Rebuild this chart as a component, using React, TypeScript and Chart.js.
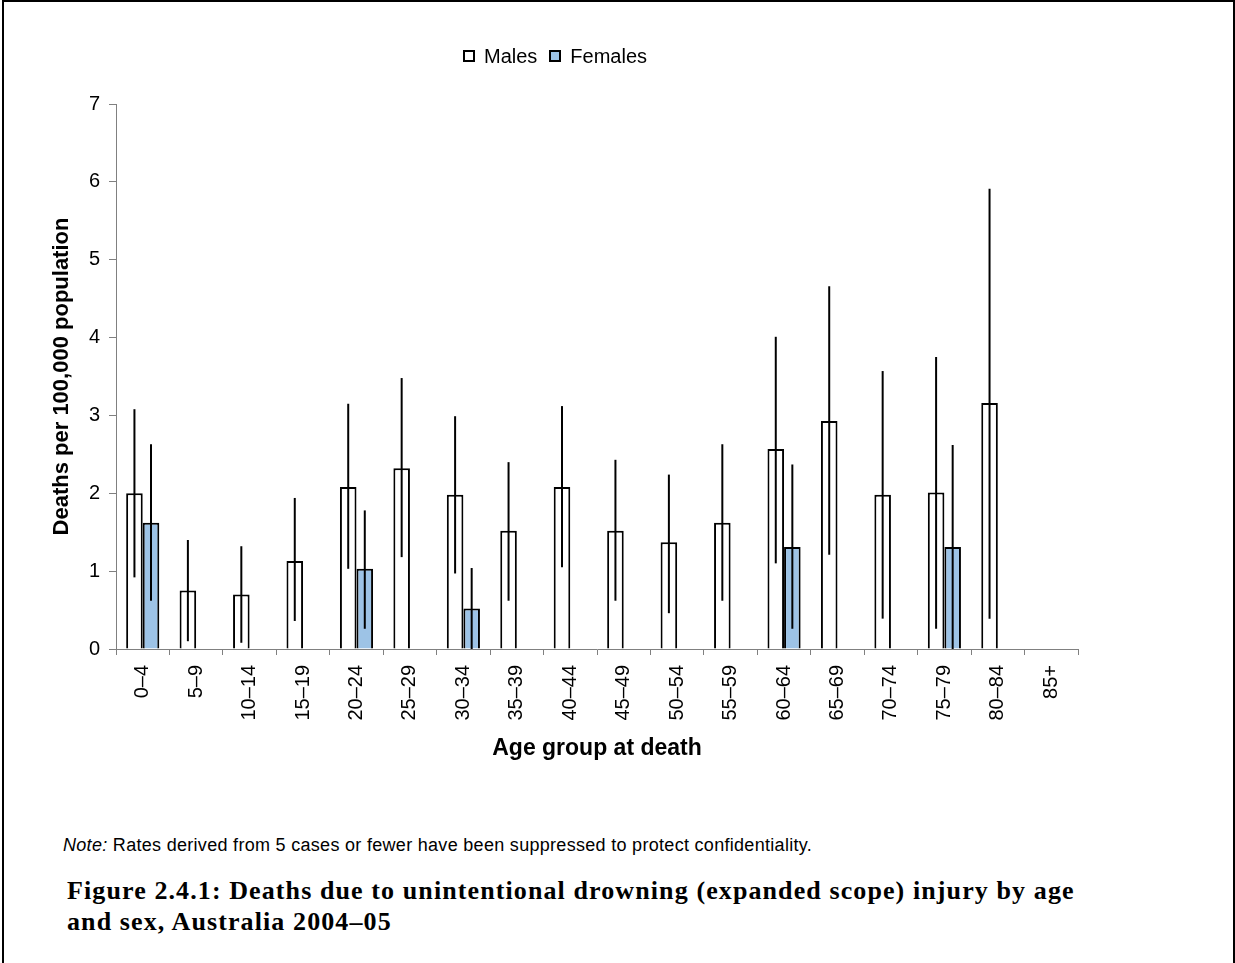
import React, { useEffect, useRef } from "react";
import { Chart, registerables } from "chart.js";

Chart.register(...registerables);

const categories = ["0–4", "5–9", "10–14", "15–19", "20–24", "25–29", "30–34", "35–39", "40–44", "45–49", "50–54", "55–59", "60–64", "65–69", "70–74", "75–79", "80–84", "85+"];

const malesRate = [2.0, 0.75, 0.7, 1.13, 2.08, 2.32, 1.98, 1.52, 2.08, 1.52, 1.37, 1.62, 2.57, 2.93, 1.98, 2.01, 3.16, null];
const malesLow = [0.92, 0.1, 0.08, 0.36, 1.03, 1.18, 0.97, 0.62, 1.05, 0.62, 0.46, 0.62, 1.1, 1.21, 0.39, 0.26, 0.39, null];
const malesHigh = [3.08, 1.4, 1.32, 1.94, 3.15, 3.48, 2.99, 2.4, 3.12, 2.43, 2.24, 2.63, 4.01, 4.66, 3.57, 3.75, 5.91, null];

const femalesRate = [1.62, null, null, null, 1.03, null, 0.52, null, null, null, null, null, 1.31, null, null, 1.31, null, null];
const femalesLow = [0.62, null, null, null, 0.26, null, 0, null, null, null, null, null, 0.26, null, null, 0, null, null];
const femalesHigh = [2.63, null, null, null, 1.78, null, 1.04, null, null, null, null, null, 2.37, null, null, 2.62, null, null];

const yTicks = [0, 1, 2, 3, 4, 5, 6, 7];

const FEMALE_COLOR = "#9DC3E6";
const AXIS_GRAY = "#808080";
const SANS = "'Liberation Sans', Arial, sans-serif";

const errorBarPlugin = {
  id: "errorBars",
  afterDatasetsDraw(chart: any) {
    const ctx = chart.ctx;
    const yScale = chart.scales.y;
    chart.data.datasets.forEach((ds: any, i: number) => {
      const meta = chart.getDatasetMeta(i);
      meta.data.forEach((el: any, j: number) => {
        const lo = ds.errLow[j];
        const hi = ds.errHigh[j];
        if (lo == null || hi == null) return;
        ctx.save();
        ctx.strokeStyle = "#000";
        ctx.lineWidth = 2;
        ctx.beginPath();
        ctx.moveTo(el.x, yScale.getPixelForValue(lo));
        ctx.lineTo(el.x, yScale.getPixelForValue(hi));
        ctx.stroke();
        ctx.restore();
      });
    });
  },
};

export default function App() {
  const canvasRef = useRef<HTMLCanvasElement | null>(null);

  useEffect(() => {
    const canvas = canvasRef.current;
    if (!canvas) return;
    const chart = new Chart(canvas, {
      type: "bar",
      data: {
        labels: categories,
        datasets: [
          {
            label: "Males",
            data: malesRate as any,
            backgroundColor: "#FFFFFF",
            borderColor: "#000000",
            borderWidth: 2,
            errLow: malesLow,
            errHigh: malesHigh,
          } as any,
          {
            label: "Females",
            data: femalesRate as any,
            backgroundColor: FEMALE_COLOR,
            borderColor: "#000000",
            borderWidth: 2,
            errLow: femalesLow,
            errHigh: femalesHigh,
          } as any,
        ],
      },
      options: {
        responsive: false,
        animation: false,
        devicePixelRatio: 1,
        layout: { padding: { left: 49, right: 157, top: 104, bottom: 18 } },
        datasets: { bar: { categoryPercentage: 0.62, barPercentage: 1.0 } },
        plugins: {
          legend: { display: false },
          tooltip: { enabled: false },
        },
        scales: {
          x: {
            offset: true,
            grid: {
              offset: true,
              drawOnChartArea: false,
              tickLength: 6,
              color: AXIS_GRAY,
              lineWidth: 1,
            },
            border: { color: AXIS_GRAY, width: 1 },
            ticks: {
              color: "#000",
              font: { family: SANS, size: 20 },
              minRotation: 90,
              maxRotation: 90,
              padding: 10,
              autoSkip: false,
            },
            title: {
              display: true,
              text: "Age group at death",
              color: "#000",
              font: { family: SANS, size: 23, weight: "bold" },
              padding: { top: 0, bottom: 0 },
            },
            afterFit(scale: any) {
              scale.height = 113;
            },
          },
          y: {
            min: 0,
            max: 7,
            afterBuildTicks(scale: any) {
              scale.ticks = yTicks.map((v) => ({ value: v }));
            },
            grid: {
              drawOnChartArea: false,
              tickLength: 7,
              color: AXIS_GRAY,
              lineWidth: 1,
            },
            border: { color: AXIS_GRAY, width: 1 },
            ticks: {
              color: "#000",
              font: { family: SANS, size: 20 },
              padding: 9,
            },
            title: {
              display: true,
              text: "Deaths per 100,000 population",
              color: "#000",
              font: { family: SANS, size: 22, weight: "bold" },
              padding: { top: 0, bottom: 0 },
            },
            afterFit(scale: any) {
              scale.width = 67;
            },
          },
        },
      } as any,
      plugins: [errorBarPlugin],
    });
    return () => chart.destroy();
  }, []);

  const legendBox = (bg: string): React.CSSProperties => ({
    display: "inline-block",
    width: 12,
    height: 12,
    boxSizing: "border-box",
    border: "2px solid #000",
    background: bg,
    marginRight: 9,
  });

  return (
    <div style={{ position: "absolute", left: 0, top: 0, width: 1235, height: 963, overflow: "hidden", background: "#fff" }}>
      <div
        style={{
          position: "absolute",
          left: 2,
          top: 0,
          width: 1233,
          height: 963,
          boxSizing: "border-box",
          borderTop: "2px solid #000",
          borderLeft: "2px solid #000",
          borderRight: "2px solid #000",
        }}
      />
      <canvas
        ref={canvasRef}
        width={1235}
        height={780}
        style={{ position: "absolute", left: 0, top: 0, width: 1235, height: 780 }}
      />
      <div
        style={{
          position: "absolute",
          left: 463,
          top: 43,
          fontFamily: SANS,
          fontSize: 20,
          lineHeight: "26px",
          color: "#000",
          display: "flex",
          alignItems: "center",
          whiteSpace: "nowrap",
        }}
      >
        <span style={legendBox("#FFFFFF")} />
        <span style={{ marginRight: 12 }}>Males</span>
        <span style={legendBox(FEMALE_COLOR)} />
        <span>Females</span>
      </div>
      <div
        style={{
          position: "absolute",
          left: 63,
          top: 834,
          fontFamily: SANS,
          fontSize: 18,
          letterSpacing: "0.3px",
          lineHeight: "22px",
          color: "#000",
          whiteSpace: "nowrap",
        }}
      >
        <i>Note:</i> Rates derived from 5 cases or fewer have been suppressed to protect confidentiality.
      </div>
      <div
        style={{
          position: "absolute",
          left: 67,
          top: 875,
          width: 1150,
          fontFamily: "'Liberation Serif', 'DejaVu Serif', serif",
          fontWeight: "bold",
          fontSize: 26,
          letterSpacing: "1.1px",
          lineHeight: "31px",
          color: "#000",
          whiteSpace: "nowrap",
        }}
      >
        Figure 2.4.1: Deaths due to unintentional drowning (expanded scope) injury by age
        <br />
        and sex, Australia 2004–05
      </div>
    </div>
  );
}
